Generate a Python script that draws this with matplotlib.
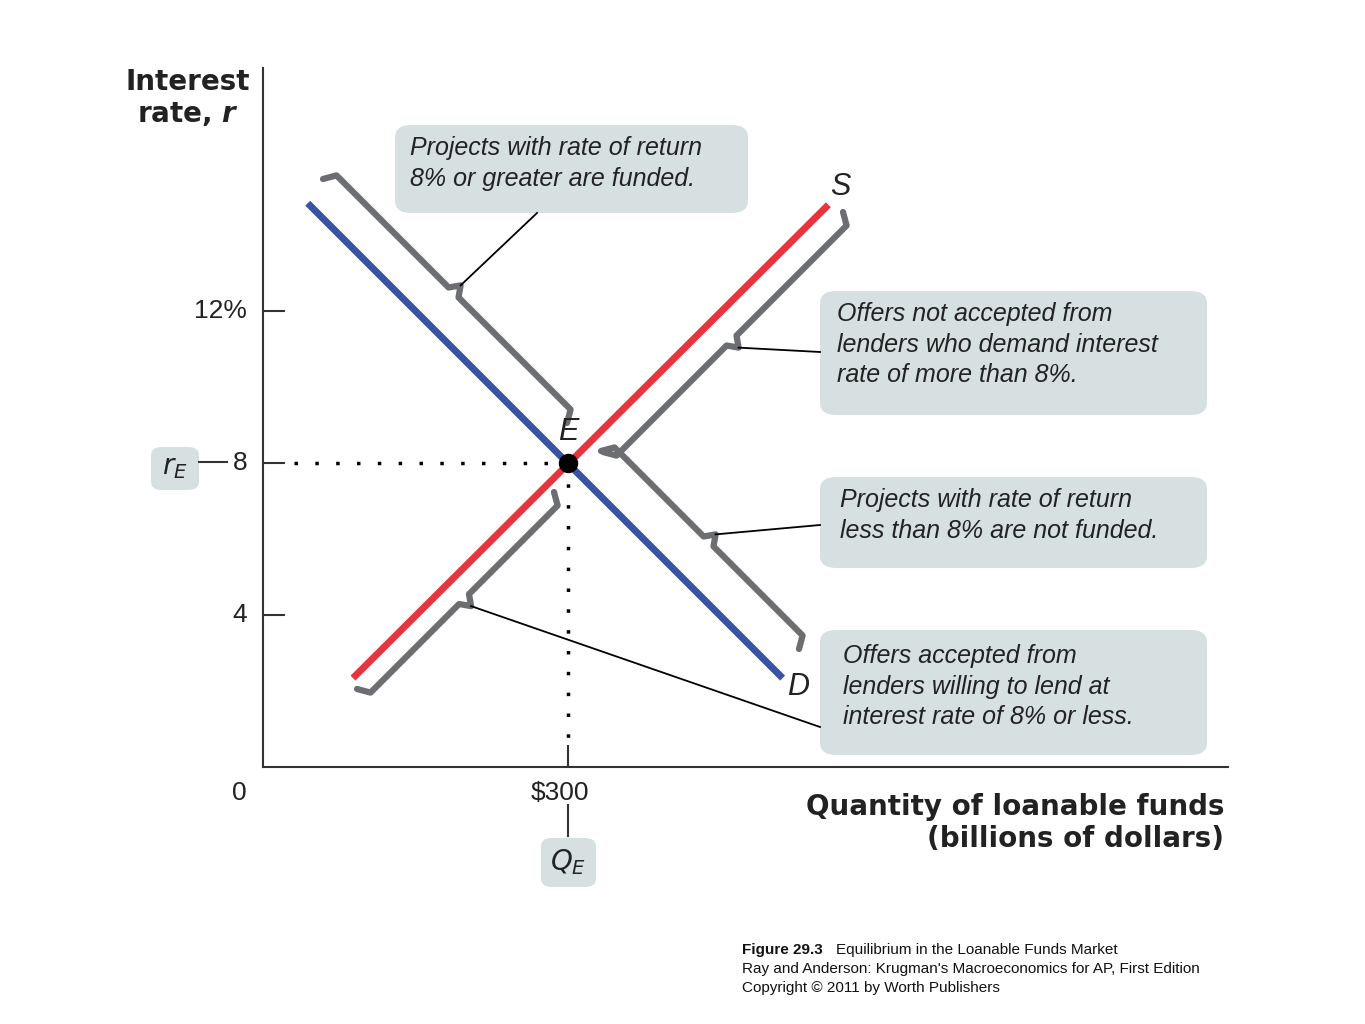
import matplotlib
matplotlib.use("Agg")
import matplotlib.pyplot as plt
import numpy as np
from matplotlib.patches import FancyBboxPatch

# data
demand_q = [44, 511]; demand_r = [14.84, 2.34]
supply_q = [88.5, 556]; supply_r = [2.34, 14.8]
eq_q, eq_r = 300, 8
yticks = [4, 8, 12]; ytick_labels = ["4", "8", "12%"]

W, H = 1365, 1024
fig = plt.figure(figsize=(W/100, H/100), dpi=100)
ax = fig.add_axes([263/W, (H-767)/H, 965/W, (767-68)/H])
ax.set_xlim(0, 949); ax.set_ylim(0, 18.4)
for s in ["top", "right"]: ax.spines[s].set_visible(False)
for s in ["left", "bottom"]: ax.spines[s].set_linewidth(1.5); ax.spines[s].set_color("#333")
ax.set_xticks([]); ax.set_yticks([])

def px(x, y):  # pixel (top-left origin) -> figure fraction
    return x/W, 1 - y/H

ax.plot(demand_q, demand_r, color="#3a53a4", lw=5, solid_capstyle="butt", zorder=3)
ax.plot(supply_q, supply_r, color="#e8343f", lw=5, solid_capstyle="butt", zorder=3)
ax.plot([30, eq_q], [eq_r, eq_r], ls=(0, (1, 5)), color="k", lw=2.5)
ax.plot([eq_q, eq_q], [eq_r, 0.7], ls=(0, (1, 5)), color="k", lw=2.5)
ax.plot([eq_q], [eq_r], "o", color="k", ms=13, zorder=5)
for t in yticks:
    ax.plot([0, 21], [t, t], color="#333", lw=1.5)
ax.plot([eq_q, eq_q], [0, 0.55], color="#333", lw=1.5)

def brace(A, B, n, d=22):
    A = np.array(A, float); B = np.array(B, float); n = np.array(n, float); n /= np.linalg.norm(n)
    t = (B - A) / np.linalg.norm(B - A); M = (A + B) / 2
    pts = [A + n*d*0.45, A + n*d + t*7, M + n*d - t*7, M + n*(d+10), M + n*d + t*7, B + n*d - t*7, B + n*d*0.45]
    xs = [p[0]/W for p in pts]; ys = [1 - p[1]/H for p in pts]
    fig.add_artist(plt.Line2D(xs, ys, transform=fig.transFigure, color="#6d6e71", lw=4.5, solid_joinstyle="round", solid_capstyle="round"))
    tip = M + n*(d+10)
    return tip

def leader(p, q):
    fig.add_artist(plt.Line2D([p[0]/W, q[0]/W], [1-p[1]/H, 1-q[1]/H], transform=fig.transFigure, color="k", lw=1.3))

t1 = brace((316, 186), (560, 430), (1, -1)); leader(t1, (537, 213))
t2 = brace((836, 205), (596, 445), (1, 1)); leader(t2, (820, 352))
t3 = brace((594, 458), (792, 656), (1, -1)); leader(t3, (820, 525))
t4 = brace((547, 485), (350, 682), (1, 1)); leader(t4, (820, 727))

def box(x0, y0, x1, y1, text, tx, ty):
    fig.add_artist(FancyBboxPatch(px(x0, y1), (x1-x0)/W, (y1-y0)/H, boxstyle="round,pad=0,rounding_size=0.012",
                                  transform=fig.transFigure, fc="#d6e0e1", ec="none"))
    fig.text(*px(tx, ty), text, fontsize=18, style="italic", family="Liberation Sans", va="top", ha="left", linespacing=1.35, color="#222")

box(395, 125, 748, 213, "Projects with rate of return\n8% or greater are funded.", 410, 136)
box(820, 291, 1207, 415, "Offers not accepted from\nlenders who demand interest\nrate of more than 8%.", 837, 302)
box(820, 477, 1207, 568, "Projects with rate of return\nless than 8% are not funded.", 840, 488)
box(820, 630, 1207, 755, "Offers accepted from\nlenders willing to lend at\ninterest rate of 8% or less.", 843, 644)

fig.add_artist(FancyBboxPatch(px(151, 490), 48/W, 43/H, boxstyle="round,pad=0,rounding_size=0.008", transform=fig.transFigure, fc="#d6e0e1", ec="none"))
fig.text(*px(175, 467), r"$r_E$", fontsize=20, ha="center", va="center", color="#222")
fig.add_artist(FancyBboxPatch(px(541, 887), 55/W, 49/H, boxstyle="round,pad=0,rounding_size=0.008", transform=fig.transFigure, fc="#d6e0e1", ec="none"))
fig.text(*px(568, 862), r"$Q_E$", fontsize=20, ha="center", va="center", color="#222")
fig.add_artist(plt.Line2D([199/W, 227/W], [1-462/H]*2, transform=fig.transFigure, color="#333", lw=1.5))
fig.add_artist(plt.Line2D([568/W]*2, [1-805/H, 1-836/H], transform=fig.transFigure, color="#333", lw=1.5))

tk = dict(fontsize=19, family="Liberation Sans", color="#222", va="center")
fig.text(*px(247, 311), "12%", ha="right", **tk)
fig.text(*px(247, 463), "8", ha="right", **tk)
fig.text(*px(247, 615), "4", ha="right", **tk)
fig.text(*px(239, 793), "0", ha="center", **tk)
fig.text(*px(560, 793), "$300", ha="center", **tk)

fig.text(*px(188, 98), "Interest\nrate, $\\boldsymbol{r}$", fontsize=20, weight="bold", ha="center", va="center", color="#222", linespacing=1.2)
fig.text(*px(1224, 823), "Quantity of loanable funds\n(billions of dollars)", fontsize=20, weight="bold", ha="right", va="center", color="#222", linespacing=1.2)

lab = dict(fontsize=22, style="italic", family="Liberation Sans", color="#222", ha="center", va="center")
fig.text(*px(568, 432), "E", **lab)
fig.text(*px(840, 187), "S", **lab)
fig.text(*px(798, 687), "D", **lab)

cap = dict(fontsize=11, family="Liberation Sans", color="#111", va="center", ha="left")
fig.text(*px(742, 950), "Figure 29.3", weight="bold", **cap)
fig.text(*px(836, 950), "Equilibrium in the Loanable Funds Market", **cap)
fig.text(*px(742, 969), "Ray and Anderson: Krugman's Macroeconomics for AP, First Edition", **cap)
fig.text(*px(742, 988), "Copyright © 2011 by Worth Publishers", **cap)

fig.savefig("out.png", dpi=100)
